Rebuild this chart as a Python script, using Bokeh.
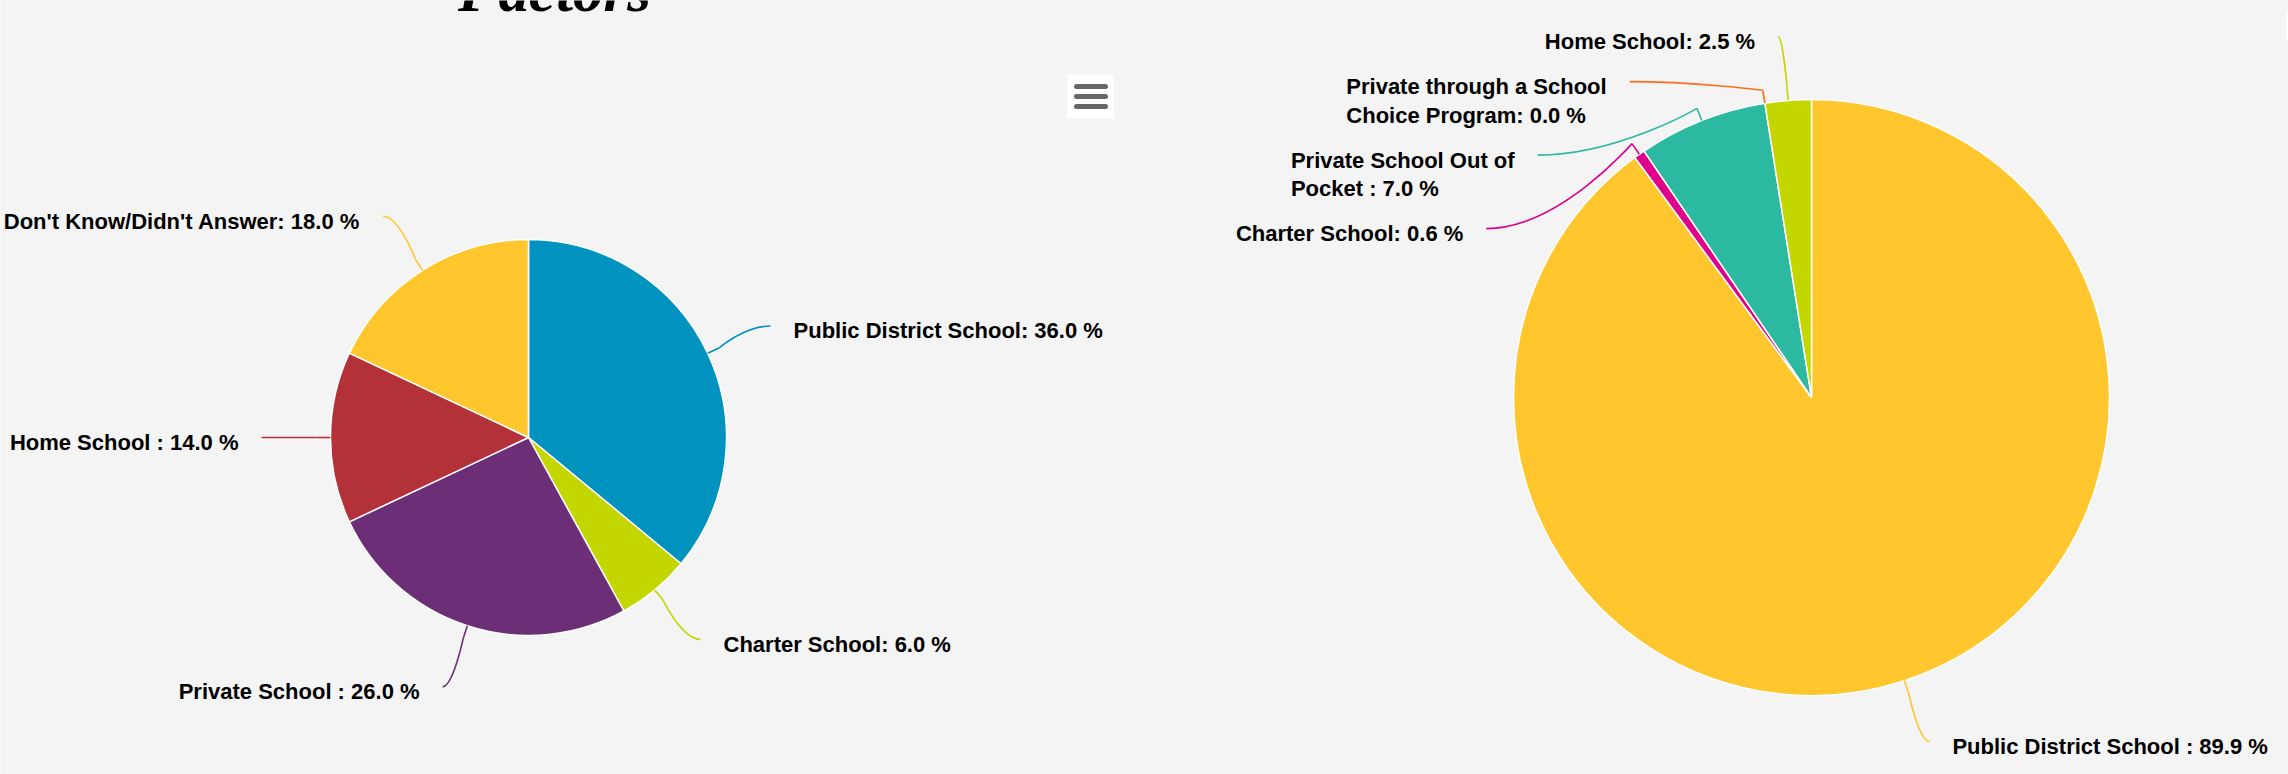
import math
from bokeh.plotting import figure
from bokeh.models import Range1d, ColumnDataSource
from bokeh.core.properties import value
from bokeh.embed import file_html
from bokeh.resources import INLINE

# ---------------- data ----------------
title_text = "Factors"

left_names = ["Public District School", "Charter School", "Private School ",
              "Home School ", "Don't Know/Didn't Answer"]
left_values = [36.0, 6.0, 26.0, 14.0, 18.0]
left_colors = ["#0093c0", "#c4d600", "#6c2e76", "#b33139", "#ffc72d"]

right_names = ["Public District School ", "Charter School",
               "Private School Out of\nPocket ",
               "Private through a School\nChoice Program", "Home School"]
right_values = [89.9, 0.6, 7.0, 0.0, 2.5]
right_colors = ["#ffc72d", "#e0008c", "#2bb9a1", "#ff6c1a", "#c4d600"]

# ---------------- layout ----------------
W, H = 2288, 774
BG = "#f4f4f4"
FONT = "Liberation Sans"
FONT_PX = 22
LINE_H = 28.5
BOX_H = 16.5
TEXT_DY = 5          # label text offset below the connector end

# Arial/Liberation Sans Bold advance widths (per em)
CW = {' ': .278, '%': .889, "'": .238, '.': .278, '/': .278, ':': .333,
      'A': .722, 'C': .722, 'D': .722, 'H': .722, 'K': .722, 'O': .778,
      'P': .667, 'S': .667, 'a': .556, 'b': .611, 'c': .556, 'd': .611,
      'e': .556, 'f': .333, 'g': .611, 'h': .611, 'i': .278, 'k': .556,
      'l': .278, 'm': .889, 'n': .611, 'o': .611, 'r': .389, 's': .556,
      't': .333, 'u': .611, 'v': .556, 'w': .778}


def text_w(s):
    return sum(CW.get(ch, .556) for ch in s) * FONT_PX


p = figure(width=W, height=H, x_range=Range1d(0, W),
           y_range=Range1d(-H, 0), output_backend="svg",
           toolbar_location=None, min_border=0, x_axis_type=None,
           y_axis_type=None, background_fill_color=BG,
           border_fill_color=BG, outline_line_color=None)
p.grid.visible = False


def draw_pie(names, values, colors, cx, cy, r, dist):
    n = len(values)
    total = float(sum(values))
    starts, ends = [], []
    acc = 0.0
    for v in values:
        starts.append(acc / total * 2 * math.pi)
        acc += v
        ends.append(acc / total * 2 * math.pi)
    idx = [i for i in range(n) if values[i] > 0]
    src = ColumnDataSource(dict(
        start=[math.pi / 2 - ends[i] for i in idx],
        end=[math.pi / 2 - starts[i] for i in idx],
        color=[colors[i] for i in idx]))
    p.wedge(x=cx, y=-cy, radius=r, start_angle="start", end_angle="end",
            direction="anticlock", fill_color="color", line_color="white",
            line_width=1.5, source=src)

    R = r + dist
    mids = [(s + e) / 2 for s, e in zip(starts, ends)]
    labels = [f"{nm}: {v:.1f} %" for nm, v in zip(names, values)]
    sides = [1 if m < math.pi else -1 for m in mids]
    nat_y = [cy - R * math.cos(m) for m in mids]
    fy = nat_y[:]
    for side in (1, -1):
        order = sorted([i for i in range(n) if sides[i] == side],
                       key=lambda i: nat_y[i])
        prev_bottom = -1e9
        for i in order:
            h = (labels[i].count("\n") + 1) * LINE_H + BOX_H
            y = max(nat_y[i], prev_bottom)
            fy[i] = y
            prev_bottom = y + h
    gx = [cx + sides[i] * math.sqrt(max(R * R - (fy[i] - cy) ** 2, 0.0))
          for i in range(n)]

    lx = [gx[i] + sides[i] * 5 for i in range(n)]
    bx = [cx + (r + 13) * math.sin(m) for m in mids]
    by = [cy - (r + 13) * math.cos(m) for m in mids]
    tx = [cx + r * math.sin(m) for m in mids]
    ty = [cy - r * math.cos(m) for m in mids]
    csrc = ColumnDataSource(dict(
        x0=lx, y0=[-y for y in fy], x1=bx, y1=[-y for y in by],
        cx0=[(a + b) / 2 for a, b in zip(lx, bx)], cy0=[-y for y in fy],
        cx1=bx, cy1=[-y for y in by], tx=tx, ty=[-y for y in ty],
        color=list(colors)))
    p.bezier(x0="x0", y0="y0", x1="x1", y1="y1", cx0="cx0", cy0="cy0",
             cx1="cx1", cy1="cy1", line_color="color", line_width=1.6,
             source=csrc)
    p.segment(x0="x1", y0="y1", x1="tx", y1="ty", line_color="color",
              line_width=1.6, source=csrc)

    txs, tys, tts, aligns = [], [], [], []
    for i in range(n):
        lines = labels[i].split("\n")
        maxw = max(text_w(s) for s in lines)
        for k, s in enumerate(lines):
            yb = fy[i] + TEXT_DY + k * LINE_H
            if sides[i] > 0:
                txs.append(gx[i] + 28); aligns.append("left")
            elif len(lines) == 1:
                txs.append(gx[i] - 28); aligns.append("right")
            else:
                txs.append(gx[i] - 28 - maxw); aligns.append("left")
            tys.append(-yb)
            tts.append(s)
    tsrc = ColumnDataSource(dict(x=txs, y=tys, text=tts, align=aligns))
    p.text(x="x", y="y", text="text", text_align="align",
           text_baseline="alphabetic", text_font=value(FONT),
           text_font_style="bold", text_font_size=f"{FONT_PX}px",
           text_color="#000000", source=tsrc)


draw_pie(left_names, left_values, left_colors, 528, 437, 198, 64)
draw_pie(right_names, right_values, right_colors, 1811, 397, 298, 64)

# chart title (mostly scrolled out of view)
p.text(x=[554], y=[10], text=[title_text], text_align="center",
       text_baseline="alphabetic", text_font=value("Liberation Serif"),
       text_font_style="bold italic", text_font_size="61px",
       text_color="#000000")

# context menu buttons
p.quad(left=[1067], right=[1113], top=[-74], bottom=[-118],
       fill_color="white", line_color=None)
p.segment(x0=[1076, 1076, 1076], x1=[1105, 1105, 1105],
          y0=[-86, -96, -106], y1=[-86, -96, -106], line_color="#666666",
          line_width=5, line_cap="round")
p.quad(left=[2286], right=[2292], top=[-12], bottom=[-39],
       fill_color="white", line_color=None)

open("out.html", "w").write(file_html(p, INLINE))
